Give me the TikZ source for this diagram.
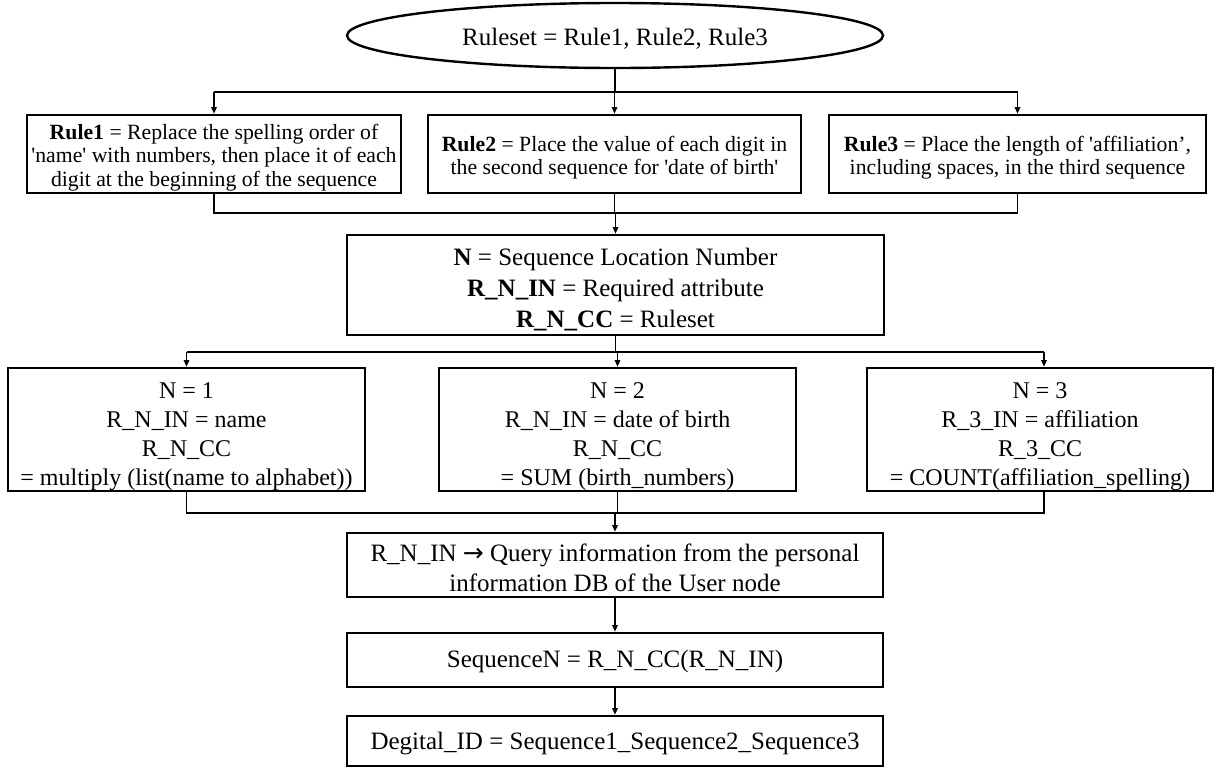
\documentclass[tikz,border=0pt]{standalone}
\usepackage{fontspec}
\setmainfont{Liberation Serif}[Ligatures=TeXOff]
\newfontfamily\symfont{DejaVu Sans}
\usetikzlibrary{arrows.meta,shapes.geometric}
% a tall invisible strut on the first line pushes the text block down
\newcommand\liftby[1]{\rule{0pt}{\dimexpr\fontcharht\font`l+#1\relax}}

\begin{document}
\begin{tikzpicture}[
  x=0.75pt, y=-0.75pt,
  boxline/.style={draw, line width=1.8pt, inner sep=0pt, align=center},
  rulebox/.style={boxline, minimum height=78*0.75pt,
    font=\fontsize{16.3pt}{17.6pt}\selectfont},
  midbox/.style={boxline, minimum width=537*0.75pt, minimum height=100*0.75pt,
    font=\fontsize{18.75pt}{23.25pt}\selectfont},
  nbox/.style={boxline, minimum width=357*0.75pt, minimum height=123*0.75pt,
    font=\fontsize{18pt}{21.75pt}\selectfont},
  lowbox/.style={boxline, minimum width=536*0.75pt,
    font=\fontsize{18.75pt}{22.5pt}\selectfont},
  link/.style={line width=1.4pt},
  arr/.style={link, -{Triangle[length=5pt,width=4pt]}},
]
\useasboundingbox (0,0) rectangle (1217,768);
\fill[white] (0,0) rectangle (1217,768);

% start of the chain: the rule set
\node[draw, line width=1.8pt, ellipse, inner sep=0pt,
      minimum width=536*0.75pt, minimum height=65*0.75pt,
      font=\fontsize{18.75pt}{22.5pt}\selectfont]
  (rs) at (615,35.5) {\liftby{6pt}Ruleset = Rule1, Rule2, Rule3};

% the three rules
\node[rulebox, minimum width=374*0.75pt] (r1) at (214,154)
  {\liftby{6pt}\textbf{Rule1} = Replace the spelling order of\\
   'name' with numbers, then place it of each\\
   digit at the beginning of the sequence};
\node[rulebox, minimum width=373*0.75pt] (r2) at (614.5,154)
  {\liftby{6pt}\textbf{Rule2} = Place the value of each digit in\\
   the second sequence for 'date of birth'};
\node[rulebox, minimum width=377*0.75pt] (r3) at (1017.5,154)
  {\liftby{6pt}\textbf{Rule3} = Place the length of 'affiliation’,\\
   including spaces, in the third sequence};

% definitions
\node[midbox] (mid) at (615.5,285)
  {\liftby{7.5pt}\textbf{N} = Sequence Location Number\\
   \textbf{R\_N\_IN} = Required attribute\\
   \textbf{R\_N\_CC} = Ruleset};

% one box per sequence position
\node[nbox] (n1) at (186.5,429.5)
  {\liftby{10.5pt}N = 1\\ R\_N\_IN = name\\ R\_N\_CC\\ = multiply (list(name to alphabet))};
\node[nbox] (n2) at (617.5,429.5)
  {\liftby{10.5pt}N = 2\\ R\_N\_IN = date of birth\\ R\_N\_CC\\ = SUM (birth\_numbers)};
\node[nbox, minimum width=346*0.75pt] (n3) at (1040,429.5)
  {\liftby{10.5pt}N = 3\\ R\_3\_IN = affiliation\\ R\_3\_CC\\ = COUNT(affiliation\_spelling)};

% final steps
\node[lowbox, minimum height=64*0.75pt] (q) at (615,565)
  {\liftby{4.5pt}R\_N\_IN {\symfont →} Query information from the personal\\
   information DB of the User node};
\node[lowbox, minimum height=54*0.75pt] (sq) at (615,660)
  {\liftby{3pt}SequenceN = R\_N\_CC(R\_N\_IN)};
\node[lowbox, minimum height=50*0.75pt] (id) at (615,741)
  {\liftby{4.5pt}Degital\_ID = Sequence1\_Sequence2\_Sequence3};

% bus lines
\coordinate (busA) at (0,92);
\coordinate (busB) at (0,213);
\coordinate (busC) at (0,352);
\coordinate (busD) at (0,513);

% rule set -> rules
\draw[link] (rs.south) -- (rs.south |- busA);
\draw[link] (r1.north |- busA) -- (r3.north |- busA);
\draw[arr] (r1.north |- busA) -- (r1.north);
\draw[arr] (r2.north |- busA) -- (r2.north);
\draw[arr] (r3.north |- busA) -- (r3.north);

% rules -> definitions
\draw[link] (r1.south) -- (r1.south |- busB) -- (r3.south |- busB) -- (r3.south);
\draw[link] (r2.south) -- (r2.south |- busB);
\draw[arr] (mid.north |- busB) -- (mid.north);

% definitions -> sequence positions
\draw[link] (mid.south) -- (mid.south |- busC);
\draw[link] (n1.north |- busC) -- ([xshift=3pt]n3.north |- busC);
\draw[arr] (n1.north |- busC) -- (n1.north);
\draw[arr] (n2.north |- busC) -- (n2.north);
\draw[arr] ([xshift=3pt]n3.north |- busC) -- ([xshift=3pt]n3.north);

% sequence positions -> query
\draw[link] (n1.south) -- (n1.south |- busD) -- ([xshift=3pt]n3.south |- busD) -- ([xshift=3pt]n3.south);
\draw[link] (n2.south) -- (n2.south |- busD);
\draw[arr] (q.north |- busD) -- (q.north);

% query -> sequence -> identifier
\draw[arr] (q.south) -- (sq.north);
\draw[arr] (sq.south) -- (id.north);
\end{tikzpicture}
\end{document}
